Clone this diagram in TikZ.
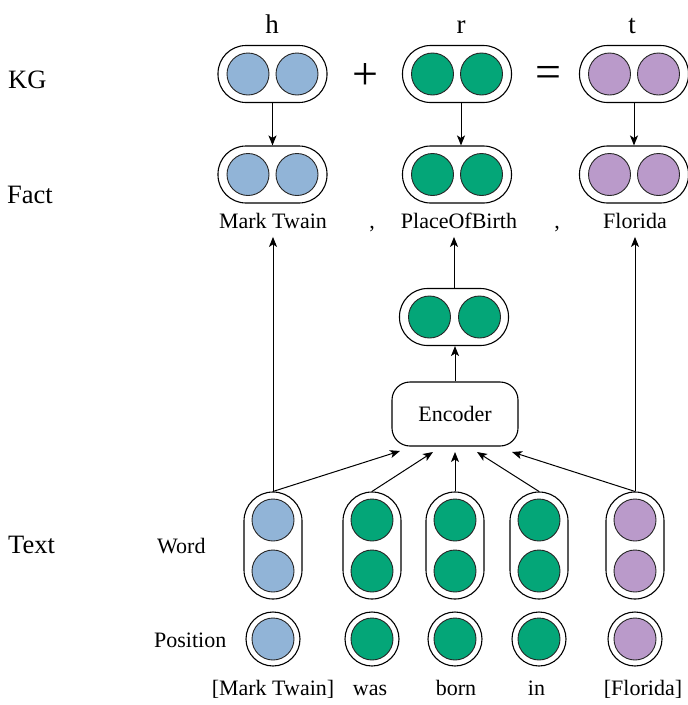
\documentclass[tikz,border=0pt]{standalone}
\usepackage{fontspec}
\setmainfont{Liberation Serif}
\usetikzlibrary{arrows.meta}

\definecolor{entblue}{RGB}{145,180,215}
\definecolor{relgreen}{RGB}{4,166,120}
\definecolor{tailpurple}{RGB}{186,154,202}

\tikzset{
  hpill/.style={draw, line width=1.1pt, rounded corners=28pt, minimum width=109pt, minimum height=57pt, inner sep=0pt},
  vpill/.style={draw, line width=1.1pt, rounded corners=29pt, minimum width=58pt, minimum height=107pt, inner sep=0pt},
  unit/.style={circle, draw=black!85, line width=0.9pt, minimum size=42pt, inner sep=0pt, fill=#1},
  ring/.style={circle, draw, line width=1.1pt, minimum size=54pt, inner sep=0pt},
  encbox/.style={draw, line width=1.1pt, rounded corners=18pt, minimum width=126pt, minimum height=64pt, font=\fontsize{22}{26}\selectfont},
  lbl/.style={inner sep=0pt, anchor=base, font=\fontsize{22}{26}\selectfont},
  sidelbl/.style={inner sep=0pt, anchor=base west, font=\fontsize{22}{26}\selectfont},
  rowlbl/.style={inner sep=0pt, anchor=base west, font=\fontsize{26.5}{30}\selectfont},
  sym/.style={inner sep=0pt, anchor=base, font=\fontsize{27}{30}\selectfont},
  op/.style={inner sep=0pt, font=\fontsize{46}{50}\selectfont},
  arr/.style={-{Stealth[length=10pt,width=8pt,inset=2.5pt]}, line width=1pt},
}

\begin{document}
\begin{tikzpicture}[x=1pt, y=-1pt]
\useasboundingbox (0,0) rectangle (688,705);

% row labels
\node[rowlbl] (kg) at (8,88) {KG};
\node[rowlbl] (fact) at (7,203) {Fact};
\node[rowlbl] (txt) at (8,553) {Text};
\node[sidelbl] (word) at (157,553) {Word};
\node[sidelbl] (pos) at (154,647) {Position};

% KG embeddings h + r = t
\node[sym] (hsym) at (272,33) {h};
\node[sym] (rsym) at (461,33) {r};
\node[sym] (tsym) at (632,33) {t};

\node[hpill] (hk) at (272.5,74) {};
\node[unit=entblue] (hk1) at (248,74) {};
\node[unit=entblue] (hk2) at (297,74) {};
\node[op] (plus) at (365,77) {+};
\node[hpill] (rk) at (457,74) {};
\node[unit=relgreen] (rk1) at (432.5,74) {};
\node[unit=relgreen] (rk2) at (481.5,74) {};
\node[op] (eq) at (548,77) {=};
\node[hpill] (tk) at (634,74) {};
\node[unit=tailpurple] (tk1) at (609.5,74) {};
\node[unit=tailpurple] (tk2) at (658.5,74) {};

% fact embeddings
\node[hpill] (hf) at (272.5,174.5) {};
\node[unit=entblue] (hf1) at (248,174.5) {};
\node[unit=entblue] (hf2) at (297,174.5) {};
\node[hpill] (rf) at (457,174.5) {};
\node[unit=relgreen] (rf1) at (432.5,174.5) {};
\node[unit=relgreen] (rf2) at (481.5,174.5) {};
\node[hpill] (tf) at (634,174.5) {};
\node[unit=tailpurple] (tf1) at (609.5,174.5) {};
\node[unit=tailpurple] (tf2) at (658.5,174.5) {};

\draw[arr] (hk.south) -- (hf.north);
\draw[arr] ([xshift=4pt]rk.south) -- ([xshift=4pt]rf.north);
\draw[arr] (tk.south) -- (tf.north);

% fact triple
\node[lbl] (fmark) at (273,228) {Mark Twain};
\node[lbl] (c1) at (372,228) {,};
\node[lbl] (fplace) at (459,228) {PlaceOfBirth};
\node[lbl] (c2) at (557,228) {,};
\node[lbl] (fflor) at (635,228) {Florida};

% sentence encoder
\node[hpill] (mid) at (454,317) {};
\node[unit=relgreen] (mid1) at (429.5,317) {};
\node[unit=relgreen] (mid2) at (479.5,317) {};
\node[encbox] (enc) at (455,414) {Encoder};

\draw[arr] (enc.north) -- (enc.north |- mid.south);
\draw[arr, shorten >=8.5pt] (mid.north) -- (mid.north |- fplace.south);

% word embeddings
\foreach \n/\x/\c in {w1/273/entblue, w2/372/relgreen, w3/455/relgreen, w4/539/relgreen, w5/635/tailpurple}{
  \node[vpill] (\n) at (\x,545.5) {};
  \node[unit=\c] (\n a) at (\x,520) {};
  \node[unit=\c] (\n b) at (\x,571) {};
  \node[ring] (\n p) at (\x,639) {};
  \node[unit=\c] (\n q) at (\x,639) {};
}

% arrow targets below the encoder
\coordinate (e1) at (400,451);
\coordinate (e2) at (433,452);
\coordinate (e3) at (455,452);
\coordinate (e4) at (477,452);
\coordinate (e5) at (512,452);

\draw[arr] (w1.north) -- (e1);
\draw[arr] (w2.north) -- (e2);
\draw[arr] (w3.north) -- (e3);
\draw[arr] (w4.north) -- (e4);
\draw[arr] (w5.north) -- (e5);

\draw[arr, shorten >=8.5pt] (w1.north) -- (w1.north |- fmark.south);
\draw[arr, shorten >=8.5pt] (w5.north) -- (w5.north |- fflor.south);

% sentence tokens
\node[lbl] (s1) at (273,695) {[Mark Twain]};
\node[lbl] (s2) at (370,695) {was};
\node[lbl] (s3) at (456,695) {born};
\node[lbl] (s4) at (536.5,695) {in};
\node[lbl] (s5) at (643,695) {[Florida]};
\end{tikzpicture}
\end{document}
